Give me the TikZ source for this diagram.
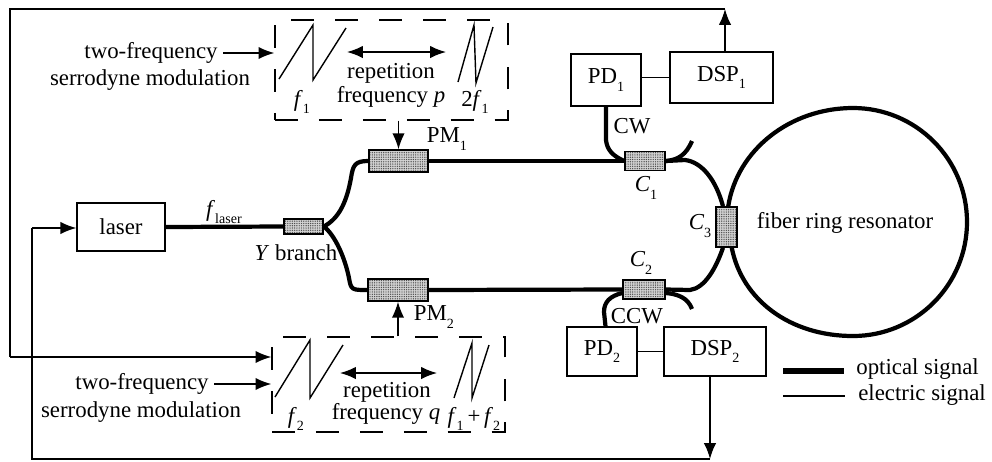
\documentclass[tikz,border=0pt]{standalone}
\usepackage{fontspec}
\setmainfont{Liberation Serif}
\usetikzlibrary{arrows.meta,patterns.meta}
\newcommand{\lowsub}[1]{\raisebox{-0.7ex}{\fontsize{8}{9}\selectfont #1}}
\tikzset{
  elec/.style={line width=0.8pt},
  sig/.style={elec,-{Latex[length=9pt,width=7pt]}},
  twosig/.style={elec,{Latex[length=9pt,width=7pt]}-{Latex[length=9pt,width=7pt]}},
  opt/.style={line width=2.4pt},
  block/.style={draw,elec,inner sep=0pt},
  coupler/.style={draw,line width=0.9pt,preaction={fill=gray!35},pattern={Dots[distance=1.3pt,radius=0.4pt]},pattern color=black!70,inner sep=0pt},
  modbox/.style={draw,elec,inner sep=0pt,dash pattern=on 13pt off 12pt},
  txt/.style={inner sep=0pt,font=\fontsize{13}{15}\selectfont}
}
\begin{document}
\begin{tikzpicture}[x=0.02cm,y=-0.02cm]
\useasboundingbox (0,0) rectangle (992,461);
% boxes
\node[block,minimum width=1.76cm,minimum height=0.96cm,txt] (laser) at (121,227) {laser};
\node[block,minimum width=1.40cm,minimum height=1.04cm,txt] (PD1) at (606,80) {PD\lowsub{1}};
\node[block,minimum width=2.06cm,minimum height=1.02cm,txt] (DSP1) at (721.5,77.5) {DSP\lowsub{1}};
\node[block,minimum width=1.40cm,minimum height=0.98cm,txt] (PD2) at (602,351.5) {PD\lowsub{2}};
\node[block,minimum width=2.04cm,minimum height=0.98cm,txt] (DSP2) at (715,351.5) {DSP\lowsub{2}};
\node[modbox,minimum width=4.66cm,minimum height=2.00cm] (mod1) at (391.5,70) {};
\node[modbox,minimum width=4.66cm,minimum height=1.90cm] (mod2) at (388.5,384.5) {};
% couplers
\node[coupler,minimum width=0.78cm,minimum height=0.30cm] (Y) at (303.5,226.5) {};
\node[coupler,minimum width=1.18cm,minimum height=0.44cm] (PMa) at (398.5,161) {};
\node[coupler,minimum width=1.20cm,minimum height=0.44cm] (PMb) at (398,290) {};
\node[coupler,minimum width=0.80cm,minimum height=0.38cm] (C1) at (645,161) {};
\node[coupler,minimum width=0.84cm,minimum height=0.38cm] (C2) at (644,289.5) {};
\node[coupler,minimum width=0.42cm,minimum height=0.80cm] (C3) at (726.5,227) {};
% optical paths
\draw[opt] (laser.east) -- (Y.west);
\draw[opt] (Y.east) .. controls (340,218) and (347,200) .. (351,178) .. controls (353,165) and (355,161) .. (PMa.west);
\draw[opt] (Y.east) .. controls (335,235) and (345,258) .. (349,278) .. controls (351,290) and (352,290) .. (PMb.west);
\draw[opt] (PMa.east) -- (C1.west);
\draw[opt] (PMb.east) -- (C2.west);
\draw[opt] (PD1.south) -- (606,140) .. controls (607,150) and (613,156) .. (C1.west);
\draw[opt] ([yshift=-2pt]C2.west) .. controls (610,296) and (604,302) .. (604,312) -- ([xshift=2pt]PD2.north);
\draw[opt] (C1.east) -- (685,160) .. controls (702,162) and (716,180) .. ([xshift=-2pt]C3.north);
\draw[opt] (C2.east) -- (690,290) .. controls (705,288) and (716,268) .. ([xshift=-2pt]C3.south);
\draw[opt] (C1.east) .. controls (678,160) and (686,155) .. (692,141);
\draw[opt] ([yshift=-2pt]C2.east) .. controls (678,294) and (688,298) .. (692,309);
% ring
\draw[opt] ([xshift=1pt]C3.north) .. controls (737,150) and (790,108) .. (853,108) arc (-90:90:114) .. controls (790,336) and (742,300) .. ([xshift=3pt]C3.south);
% electric paths
\draw[elec] (PD1.east |- DSP1.west) -- (DSP1.west);
\draw[elec] (PD2.east) -- (DSP2.west);
\coordinate (fbtop) at (725,9);
\coordinate (fbleft) at (10,9);
\coordinate (fbin) at (10,357);
\coordinate (lowtop) at (32,228);
\coordinate (lowleft) at (32,459);
\coordinate (lowright) at (710,459);
\draw[sig] (fbtop |- DSP1.north) -- (fbtop);
\draw[elec] (fbtop) -- (fbleft) -- (fbin);
\draw[sig] (fbin) -- (fbin -| mod2.west);
\draw[sig] (lowright |- DSP2.south) -- (lowright);
\draw[elec] (lowright) -- (lowleft) -- (lowtop);
\draw[sig] (lowtop) -- (lowtop -| laser.west);
\draw[sig] (mod1.south -| PMa.north) -- (PMa.north);
\draw[sig] (mod2.north -| PMb.south) -- (PMb.south);
% sawtooth shapes
\draw[elec] (279,79) -- (313,25) -- (313,80) -- (346,28);
\draw[elec] (458,82) -- (474,25) -- (476,83) -- (493,27);
\draw[elec] (275,397) -- (310,340) -- (310,398) -- (343,345);
\draw[elec] (454,398) -- (472,343) -- (472,398) -- (489,345);
% labels
\node[txt] (two1) at (151,53) {two-frequency};
\node[txt] (ser1) at (150,80) {serrodyne modulation};
\node[txt] (two2) at (142,384) {two-frequency};
\node[txt] (ser2) at (141,412) {serrodyne modulation};
\draw[sig] (two1.east)+(3pt,0) -- (two1.east -| mod1.west);
\draw[sig] (two2.east)+(3pt,0) -- (two2.east -| mod2.west);
\node[txt] (rep1) at (391,73) {repetition};
\node[txt] (frq1) at (391,97) {frequency \textit{p}};
\node[txt] (rep2) at (387,392) {repetition};
\node[txt] (frq2) at (386,414) {frequency \textit{q}};
\coordinate (dbl1a) at (347,52);
\coordinate (dbl1b) at (446,52);
\coordinate (dbl2a) at (340,373);
\coordinate (dbl2b) at (437,373);
\draw[twosig] (dbl1a) -- (dbl1b);
\draw[twosig] (dbl2a) -- (dbl2b);
\node[txt] (fa) at (302,102) {\textit{f}\lowsub{1}};
\node[txt] (fb) at (475,102) {2\textit{f}\lowsub{1}};
\node[txt] (fc) at (296,419) {\textit{f}\lowsub{2}};
\node[txt] (fd) at (474,419) {\textit{f}\lowsub{1}\,+\,\textit{f}\lowsub{2}};
\node[txt] (flaser) at (224,212) {\textit{f}\lowsub{laser}};
\node[txt] (Ylabel) at (296,253) {\textit{Y} branch};
\node[txt] (PM1) at (447,139) {PM\lowsub{1}};
\node[txt] (PM2) at (434,317) {PM\lowsub{2}};
\node[txt] (CW) at (632,126) {CW};
\node[txt] (CCW) at (637,316) {CCW};
\node[txt] (C1lab) at (646,188) {\textit{C}\lowsub{1}};
\node[txt] (C2lab) at (641,263) {\textit{C}\lowsub{2}};
\node[txt] (C3lab) at (700,226) {\textit{C}\lowsub{3}};
\node[txt] (ringlab) at (845,223) {fiber ring resonator};
% legend
\node[txt,anchor=west] (optlab) at (856,369) {optical signal};
\node[txt,anchor=west] (ellab) at (858,395) {electric signal};
\coordinate (optend) at (783,371);
\coordinate (elend) at (783,396);
\draw[line width=3pt] (optend) -- (844,371);
\draw[elec] (elend) -- (845,396);
\end{tikzpicture}
\end{document}
